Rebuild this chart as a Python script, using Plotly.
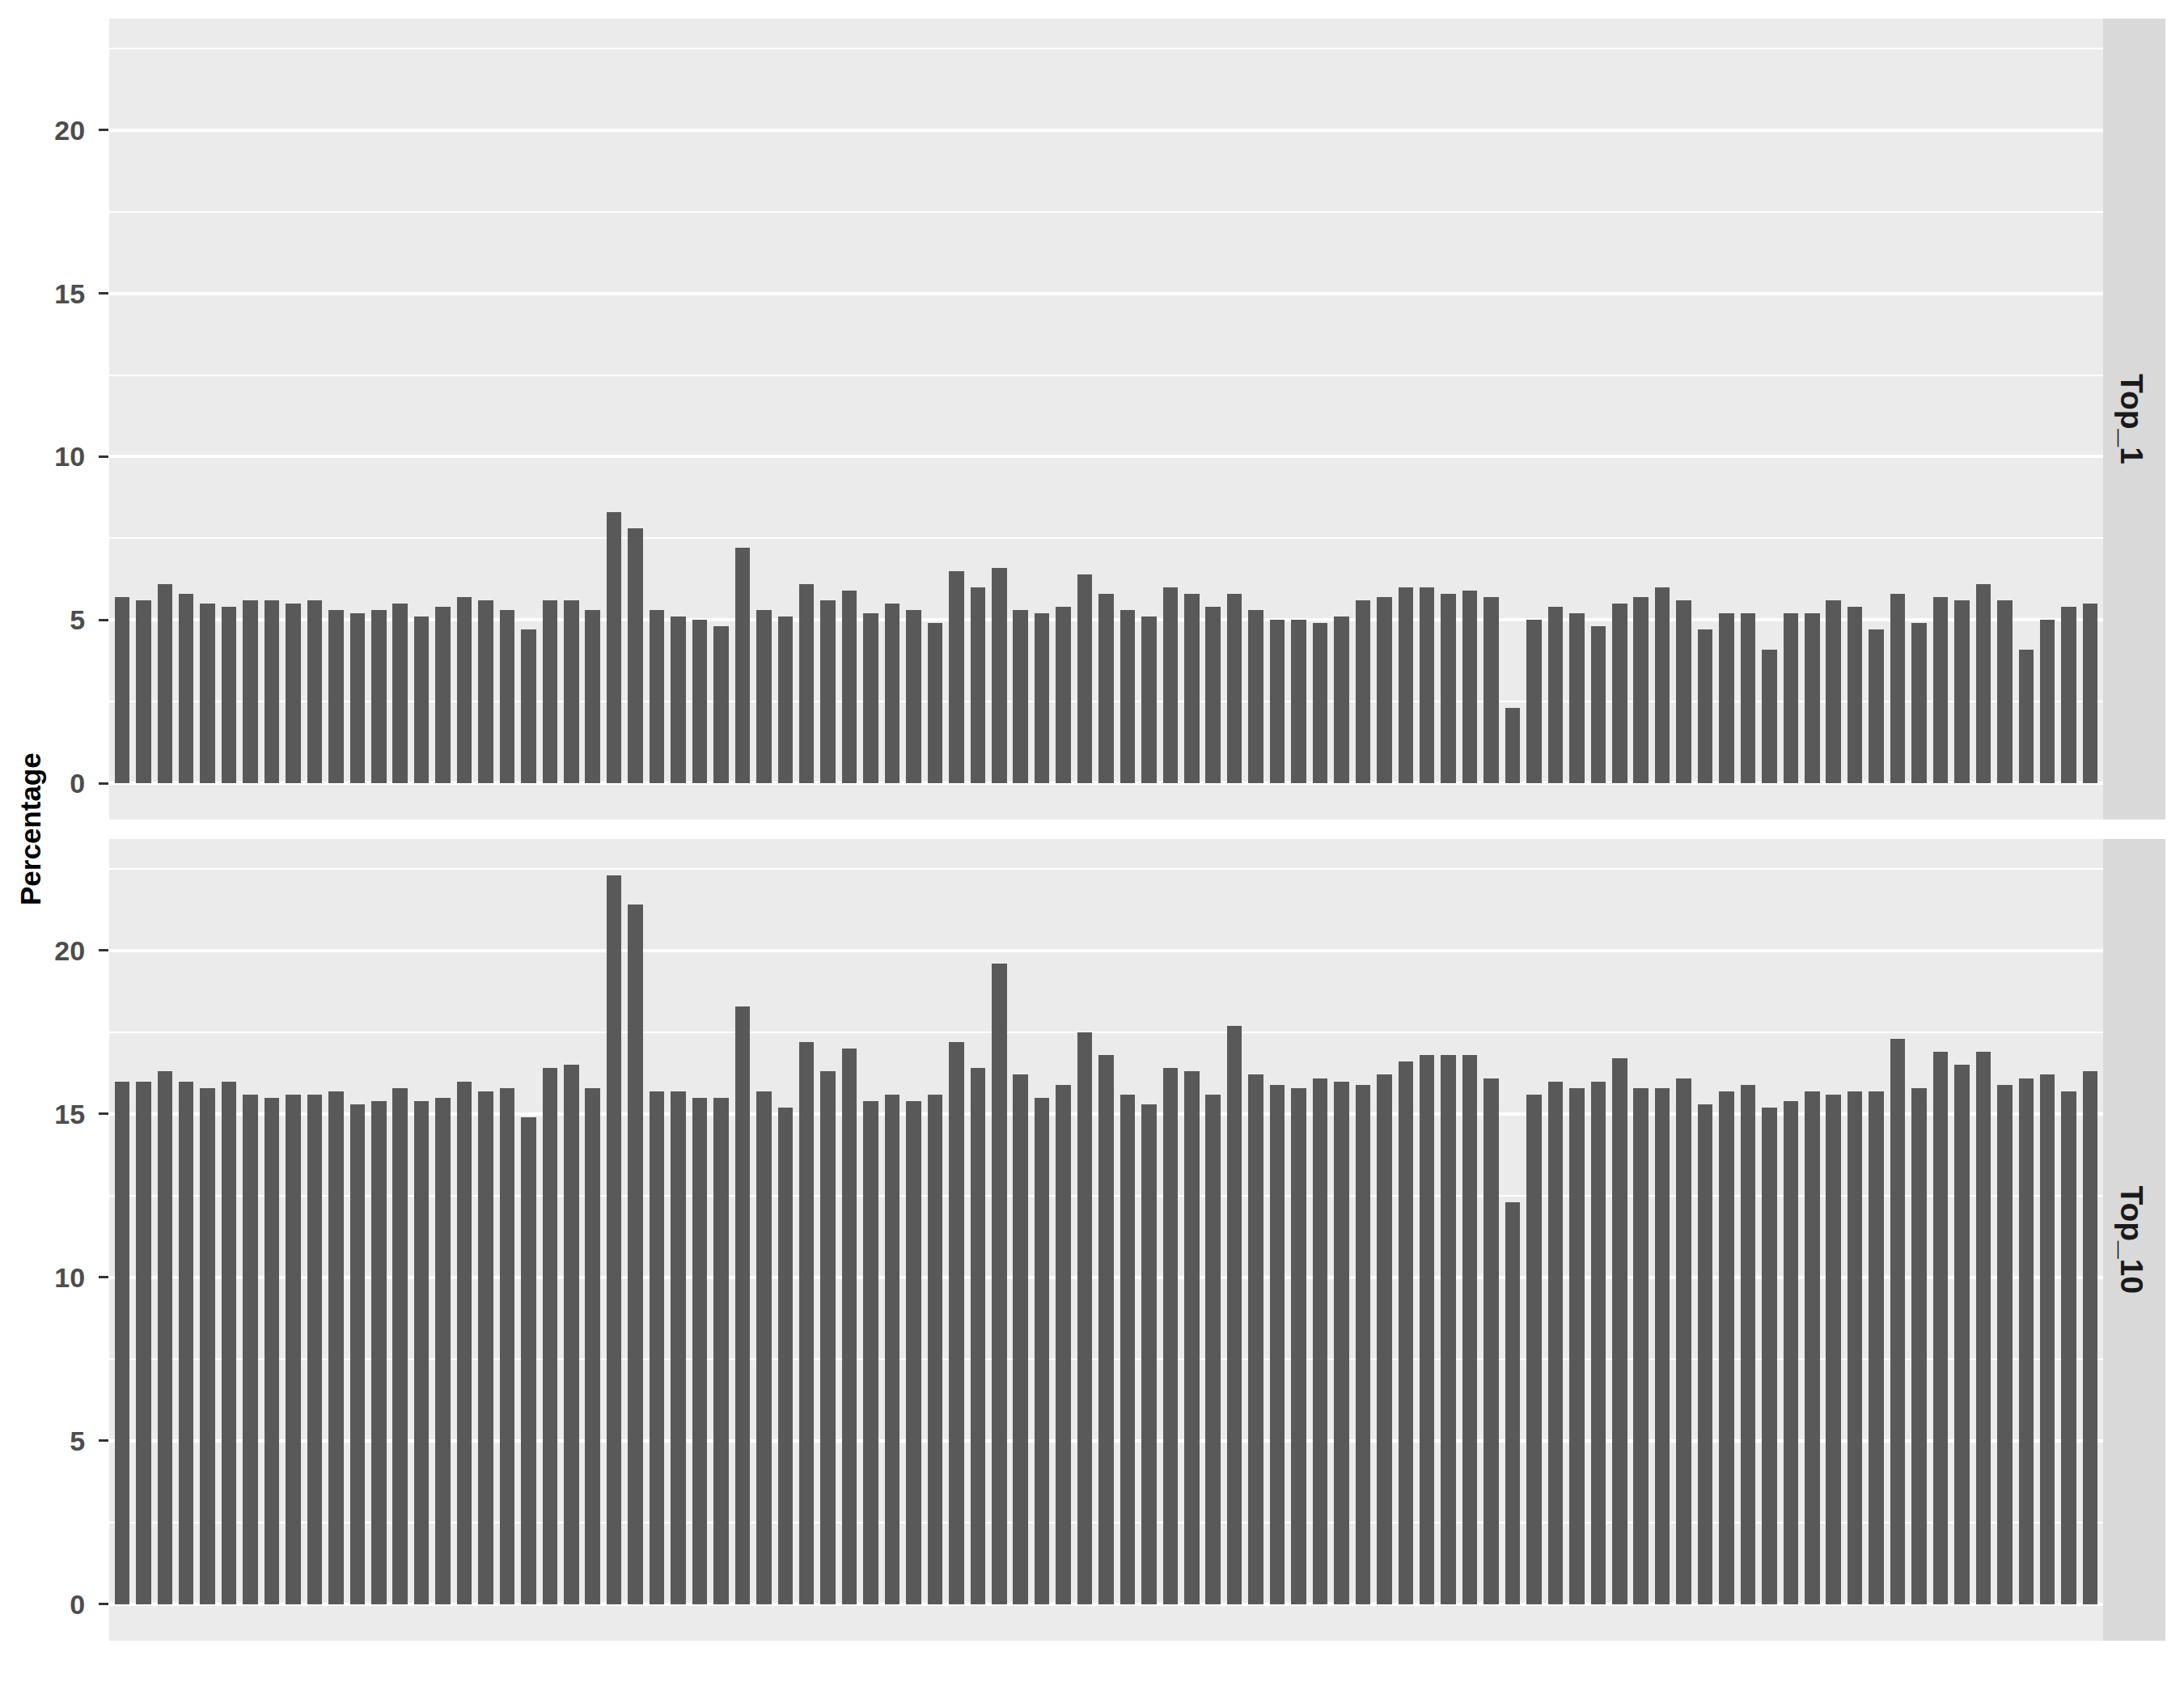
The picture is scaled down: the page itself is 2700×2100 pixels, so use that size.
import plotly.graph_objects as go

# ---- data ----
categories = [f"S{i:02d}" for i in range(1, 94)]

top_1 = [5.7, 5.6, 6.1, 5.8, 5.5, 5.4, 5.6, 5.6, 5.5, 5.6,
         5.3, 5.2, 5.3, 5.5, 5.1, 5.4, 5.7, 5.6, 5.3, 4.7,
         5.6, 5.6, 5.3, 8.3, 7.8, 5.3, 5.1, 5.0, 4.8, 7.2,
         5.3, 5.1, 6.1, 5.6, 5.9, 5.2, 5.5, 5.3, 4.9, 6.5,
         6.0, 6.6, 5.3, 5.2, 5.4, 6.4, 5.8, 5.3, 5.1, 6.0,
         5.8, 5.4, 5.8, 5.3, 5.0, 5.0, 4.9, 5.1, 5.6, 5.7,
         6.0, 6.0, 5.8, 5.9, 5.7, 2.3, 5.0, 5.4, 5.2, 4.8,
         5.5, 5.7, 6.0, 5.6, 4.7, 5.2, 5.2, 4.1, 5.2, 5.2,
         5.6, 5.4, 4.7, 5.8, 4.9, 5.7, 5.6, 6.1, 5.6, 4.1,
         5.0, 5.4, 5.5]

top_10 = [16.0, 16.0, 16.3, 16.0, 15.8, 16.0, 15.6, 15.5, 15.6, 15.6,
          15.7, 15.3, 15.4, 15.8, 15.4, 15.5, 16.0, 15.7, 15.8, 14.9,
          16.4, 16.5, 15.8, 22.3, 21.4, 15.7, 15.7, 15.5, 15.5, 18.3,
          15.7, 15.2, 17.2, 16.3, 17.0, 15.4, 15.6, 15.4, 15.6, 17.2,
          16.4, 19.6, 16.2, 15.5, 15.9, 17.5, 16.8, 15.6, 15.3, 16.4,
          16.3, 15.6, 17.7, 16.2, 15.9, 15.8, 16.1, 16.0, 15.9, 16.2,
          16.6, 16.8, 16.8, 16.8, 16.1, 12.3, 15.6, 16.0, 15.8, 16.0,
          16.7, 15.8, 15.8, 16.1, 15.3, 15.7, 15.9, 15.2, 15.4, 15.7,
          15.6, 15.7, 15.7, 17.3, 15.8, 16.9, 16.5, 16.9, 15.9, 16.1,
          16.2, 15.7, 16.3]

panel_labels = ["Top_1", "Top_10"]
y_major = [0, 5, 10, 15, 20]
y_minor = [2.5, 7.5, 12.5, 17.5, 22.5]
y_title = "Percentage"

# ---- figure ----
W, H = 2700, 2100
BAR = "#595959"
PANEL_BG = "#EBEBEB"
STRIP_BG = "#D9D9D9"

x_dom = [135 / W, 2600 / W]
top_dom = [1 - 1013 / H, 1 - 23 / H]
bot_dom = [1 - 2028 / H, 1 - 1037 / H]

ymax = max(max(top_1), max(top_10))
yr = [-0.05 * ymax, 1.05 * ymax]

fig = go.Figure()
fig.add_trace(go.Bar(x=categories, y=top_1, marker_color=BAR, marker_line_width=0,
                     width=0.7, xaxis="x", yaxis="y", showlegend=False))
fig.add_trace(go.Bar(x=categories, y=top_10, marker_color=BAR, marker_line_width=0,
                     width=0.7, xaxis="x2", yaxis="y2", showlegend=False))

xcommon = dict(domain=x_dom, range=[-0.6, len(categories) - 0.4], showgrid=False,
               showticklabels=False, ticks="", zeroline=False, showline=False,
               type="category")
ycommon = dict(range=yr, tickvals=y_major, ticktext=[str(v) for v in y_major],
               showgrid=True, gridcolor="white", gridwidth=3.5, zeroline=False,
               showline=False, ticks="outside", ticklen=12, tickwidth=3,
               tickcolor="#333333", ticklabelstandoff=10,
               tickfont=dict(family="Liberation Sans", size=34, color="#4D4D4D",
                             weight="bold"),
               minor=dict(tickvals=y_minor, showgrid=True, gridcolor="white",
                          gridwidth=1.7, ticks=""))

fig.update_layout(
    width=W, height=H, margin=dict(l=0, r=0, t=0, b=0),
    paper_bgcolor="white", plot_bgcolor=PANEL_BG, bargap=0,
    xaxis=dict(anchor="y", **xcommon),
    xaxis2=dict(anchor="y2", **xcommon),
    yaxis=dict(domain=top_dom, anchor="x", **ycommon),
    yaxis2=dict(domain=bot_dom, anchor="x2", **ycommon),
)

# strips
strip_x = [2600 / W, 2677 / W]
for dom, lab in zip([top_dom, bot_dom], panel_labels):
    fig.add_shape(type="rect", xref="paper", yref="paper",
                  x0=strip_x[0], x1=strip_x[1], y0=dom[0], y1=dom[1],
                  fillcolor=STRIP_BG, line_width=0, layer="below")
    fig.add_annotation(xref="paper", yref="paper", x=2635 / W,
                       y=(dom[0] + dom[1]) / 2, text=lab, textangle=90, showarrow=False,
                       xanchor="center", yanchor="middle",
                       font=dict(family="Liberation Sans", size=39, color="#1A1A1A",
                                 weight="bold"))

fig.add_annotation(xref="paper", yref="paper", x=37 / W, y=1 - 1025 / H,
                   text=y_title, textangle=-90, showarrow=False,
                   xanchor="center", yanchor="middle",
                   font=dict(family="Liberation Sans", size=35, color="black",
                             weight="bold"))

fig.write_html("out.html")
